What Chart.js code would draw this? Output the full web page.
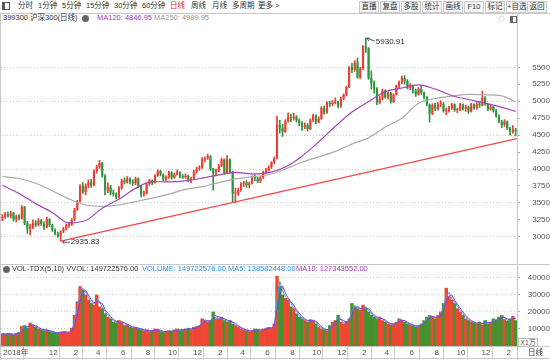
<!DOCTYPE html>
<html>
<head>
<meta charset="utf-8">
<script src="https://cdn.jsdelivr.net/npm/chart.js@4.4.1/dist/chart.umd.min.js"></script>
<style>
* { box-sizing: border-box; }
body { margin: 0; width: 550px; height: 360px; position: relative; overflow: hidden; background: #fff;
       font-family: "Liberation Sans", "Noto Sans CJK SC", sans-serif; color: #333; }
canvas { position: absolute; left: 0; }
.t { position: absolute; font-size: 7.5px; line-height: 10px; white-space: nowrap; }
.btn { position: absolute; top: 1px; width: 20px; height: 12px; border: 1px solid #c9c9c9; background: #f6f6f6;
       font-size: 7.5px; line-height: 10px; text-align: center; white-space: nowrap; }
.hl { position: absolute; left: 0; width: 550px; height: 1px; background: #c8c8c8; }
.vl { position: absolute; width: 1px; background: #c8c8c8; }
.dot { position: absolute; width: 7px; height: 7px; border-radius: 50%; background: #666; }
</style>
</head>
<body>
<canvas id="priceChart" width="550" height="240" style="top:24px"></canvas>
<canvas id="volChart" width="550" height="96" style="top:264px"></canvas>

<!-- barre d'outils -->
<div style="position:absolute;left:2px;top:2px;width:8px;height:8px;border:1px solid #555;"></div>
<div style="position:absolute;left:3px;top:3px;width:2px;height:6px;background:#555;"></div>
<span class="t" style="left:18px;top:1px">分时</span>
<span class="t" style="left:38px;top:1px">1分钟</span>
<span class="t" style="left:62px;top:1px">5分钟</span>
<span class="t" style="left:86px;top:1px">15分钟</span>
<span class="t" style="left:114px;top:1px">30分钟</span>
<span class="t" style="left:142px;top:1px">60分钟</span>
<span class="t" style="left:170px;top:1px;color:#e8241c">日线</span>
<span class="t" style="left:191px;top:1px">周线</span>
<span class="t" style="left:212px;top:1px">月线</span>
<span class="t" style="left:232px;top:1px">多周期</span>
<span class="t" style="left:258px;top:1px">更多 &gt;</span>
<div class="btn" style="left:359px">直播</div>
<div class="btn" style="left:380px">复盘</div>
<div class="btn" style="left:401px">多股</div>
<div class="btn" style="left:422px">统计</div>
<div class="btn" style="left:443px">画线</div>
<div class="btn" style="left:464px">F10</div>
<div class="btn" style="left:485px">标记</div>
<div class="btn" style="left:506px">+自选</div>
<div class="btn" style="left:527px">返回</div>
<div class="hl" style="top:13px"></div>

<!-- en-tête du graphique des prix -->
<span class="t" style="left:3px;top:13px">399300 沪深300(日线)</span>
<div class="dot" style="left:82px;top:15px"></div>
<span class="t" style="left:97px;top:13px;color:#a23db5">MA120: 4846.95</span>
<span class="t" style="left:154px;top:13px;color:#9a9a9a">MA250: 4989.95</span>
<span class="t" style="left:498px;top:14px;color:#777;font-size:7px">◇</span>
<div style="position:absolute;left:510px;top:16px;width:7px;height:7px;border:1px solid #666;border-left-width:3px;"></div>

<!-- en-tête du volume -->
<div class="hl" style="top:264px"></div>
<div class="dot" style="left:3px;top:266px"></div>
<span class="t" style="left:12px;top:264px">VOL-TDX(5,10) VVOL: 149722576.00</span>
<span class="t" style="left:142px;top:264px;color:#2e8fe0">VOLUME: 149722576.00</span>
<span class="t" style="left:228px;top:264px;color:#2e8fe0">MA5: 138582448.00</span>
<span class="t" style="left:296px;top:264px;color:#a238b8">MA10: 127343552.00</span>

<!-- cadres -->
<div class="vl" style="left:0;top:13px;height:347px"></div>
<div class="vl" style="left:517px;top:13px;height:347px"></div>
<div class="hl" style="top:346px"></div>
<div class="hl" style="top:358px"></div>
<div style="position:absolute;left:518px;top:338px;width:20px;height:9px;border:1px solid #bbb;font-size:7px;line-height:7px;text-align:center;color:#555;background:#fff">X1万</div>
<span class="t" style="left:528px;top:348px">日线</span>

<script>
// Données hebdomadaires (indice des semaines depuis mi-août 2018)
const opens = [
  3270, 3290, 3330, 3310, 3350, 3260, 3300, 3270, 3440, 3200,
  3120, 3150, 3200, 3180, 3240, 3190, 3140, 3260, 3170, 3100,
  3050, 3010, 3080, 3120, 3170, 3180, 3250, 3400, 3520, 3750,
  3660, 3750, 3800, 3760, 3970, 4030, 4090, 3900, 3680, 3740,
  3650, 3630, 3580, 3720, 3830, 3800, 3860, 3810, 3790, 3860,
  3750, 3630, 3640, 3780, 3830, 3800, 3900, 3970, 3920, 3850,
  3880, 3950, 3870, 3920, 3950, 3890, 3880, 3900, 3830, 3860,
  3960, 4000, 4020, 4140, 4160, 4190, 4000, 3950, 3980, 4050,
  4140, 3940, 4140, 3960, 3640, 3640, 3690, 3780, 3800, 3760,
  3790, 3880, 3860, 3820, 3870, 3950, 3990, 4030, 4100, 4160,
  4650, 4600, 4550, 4710, 4760, 4750, 4770, 4720, 4680, 4620,
  4650, 4590, 4720, 4790, 4690, 4740, 4900, 4830, 4980, 4960,
  4980, 4990, 4930, 5040, 5090, 5210, 5500, 5460, 5570, 5350,
  5480, 5810, 5780, 5340, 5260, 5190, 4980, 5040, 5160, 5060,
  5120, 4990, 5100, 5230, 5280, 5340, 5300, 5200, 5230, 5150,
  5100, 5180, 5120, 5060, 4950, 4820, 4940, 4890, 4950, 4960,
  4860, 4860, 4900, 4950, 4870, 4880, 4950, 4890, 4920, 4850,
  4950, 4900, 4960, 4940, 5050, 4960, 4880, 4920, 4860, 4780,
  4700, 4650, 4700, 4600, 4550, 4580
];
const highs = [
  3330, 3360, 3370, 3380, 3360, 3320, 3330, 3460, 3450, 3230,
  3190, 3250, 3240, 3270, 3260, 3220, 3290, 3270, 3190, 3120,
  3070, 3090, 3140, 3190, 3210, 3270, 3420, 3540, 3770, 3800,
  3780, 3840, 3850, 3990, 4060, 4127, 4100, 3920, 3800, 3760,
  3690, 3650, 3740, 3850, 3870, 3890, 3870, 3840, 3880, 3870,
  3760, 3680, 3790, 3850, 3840, 3920, 3990, 3980, 3930, 3900,
  3970, 3960, 3940, 3990, 3960, 3920, 3930, 3910, 3880, 3980,
  4030, 4050, 4170, 4180, 4220, 4200, 4010, 4000, 4070, 4160,
  4150, 4200, 4150, 3970, 3720, 3720, 3800, 3820, 3830, 3810,
  3900, 3910, 3880, 3890, 3970, 4010, 4050, 4110, 4180, 4780,
  4720, 4660, 4730, 4830, 4810, 4820, 4790, 4740, 4700, 4680,
  4670, 4740, 4810, 4800, 4770, 4920, 4930, 4990, 5000, 5010,
  5050, 5000, 5060, 5110, 5220, 5510, 5560, 5600, 5640, 5500,
  5820, 5930.91, 5790, 5450, 5300, 5200, 5080, 5180, 5170, 5140,
  5130, 5110, 5240, 5300, 5370, 5380, 5320, 5260, 5240, 5180,
  5200, 5230, 5140, 5070, 4960, 4960, 4970, 4980, 5010, 4980,
  4900, 4930, 4970, 4960, 4900, 4970, 4960, 4940, 4930, 4970,
  4960, 4980, 4990, 5150, 5070, 4970, 4950, 4930, 4880, 4800,
  4720, 4730, 4710, 4620, 4640, 4600
];
const lows = [
  3240, 3270, 3290, 3280, 3230, 3220, 3250, 3260, 3180, 3050,
  3030, 3120, 3150, 3160, 3170, 3110, 3130, 3150, 3080, 3030,
  2990, 2935.83, 3060, 3100, 3140, 3170, 3240, 3390, 3510, 3640,
  3620, 3720, 3730, 3750, 3940, 4010, 3880, 3620, 3650, 3620,
  3600, 3560, 3570, 3700, 3780, 3790, 3780, 3760, 3770, 3730,
  3590, 3600, 3630, 3760, 3770, 3790, 3890, 3900, 3830, 3820,
  3860, 3850, 3860, 3910, 3870, 3860, 3860, 3810, 3800, 3850,
  3940, 3980, 4010, 4110, 4140, 3980, 3690, 3900, 3960, 4030,
  3920, 3930, 3940, 3520, 3503, 3610, 3670, 3740, 3730, 3720,
  3780, 3830, 3800, 3800, 3860, 3930, 3970, 4010, 4080, 4150,
  4530, 4480, 4540, 4690, 4700, 4720, 4690, 4640, 4570, 4590,
  4560, 4580, 4700, 4670, 4680, 4730, 4810, 4820, 4920, 4930,
  4960, 4900, 4910, 5020, 5080, 5200, 5420, 5440, 5340, 5330,
  5470, 5720, 5320, 5180, 5120, 4950, 4960, 5020, 5040, 5030,
  4970, 4980, 5090, 5200, 5260, 5250, 5180, 5170, 5120, 5070,
  5090, 5100, 5030, 4930, 4690, 4800, 4860, 4870, 4920, 4840,
  4800, 4840, 4880, 4850, 4830, 4860, 4870, 4850, 4820, 4840,
  4880, 4880, 4910, 4930, 4940, 4860, 4870, 4840, 4760, 4680,
  4610, 4630, 4580, 4500, 4530, 4490
];
const closes = [
  3290, 3330, 3310, 3350, 3260, 3300, 3270, 3440, 3200, 3120,
  3150, 3200, 3180, 3240, 3190, 3140, 3260, 3170, 3100, 3050,
  3010, 3080, 3120, 3170, 3180, 3250, 3400, 3520, 3750, 3660,
  3750, 3800, 3760, 3970, 4030, 4090, 3900, 3680, 3740, 3650,
  3630, 3580, 3720, 3830, 3800, 3860, 3810, 3790, 3860, 3750,
  3630, 3640, 3780, 3830, 3800, 3900, 3970, 3920, 3850, 3880,
  3950, 3870, 3920, 3950, 3890, 3880, 3900, 3830, 3860, 3960,
  4000, 4020, 4140, 4160, 4190, 4000, 3950, 3980, 4050, 4140,
  3940, 4140, 3960, 3640, 3640, 3690, 3780, 3800, 3760, 3790,
  3880, 3860, 3820, 3870, 3950, 3990, 4030, 4100, 4160, 4650,
  4600, 4550, 4710, 4760, 4750, 4770, 4720, 4680, 4620, 4650,
  4590, 4720, 4790, 4690, 4740, 4900, 4830, 4980, 4960, 4980,
  4990, 4930, 5040, 5090, 5210, 5500, 5460, 5570, 5350, 5480,
  5810, 5780, 5340, 5260, 5190, 4980, 5040, 5160, 5060, 5120,
  4990, 5100, 5230, 5280, 5340, 5300, 5200, 5230, 5150, 5100,
  5180, 5120, 5060, 4950, 4820, 4940, 4890, 4950, 4960, 4860,
  4860, 4900, 4950, 4870, 4880, 4950, 4890, 4920, 4850, 4950,
  4900, 4960, 4940, 5050, 4960, 4880, 4920, 4860, 4780, 4700,
  4650, 4700, 4600, 4550, 4580, 4560
];
// Volume moyen journalier (unité : 万)
const volumes = [
  7200, 6800, 7500, 7000, 6500, 7300, 8000, 11500, 12000, 10500,
  13500, 12000, 11000, 10000, 9500, 9000, 9500, 8500, 8000, 7800,
  7500, 8200, 8500, 8000, 7800, 10500, 18000, 26000, 35000, 33000,
  30000, 27000, 25000, 24000, 30000, 23000, 22000, 19000, 17000, 16000,
  14000, 13500, 15000, 14000, 12000, 12500, 11000, 10500, 11000, 10000,
  9500, 9000, 9500, 8500, 9000, 10000, 9500, 8500, 8000, 8500,
  9000, 8500, 9500, 10000, 9000, 9500, 10000, 10500, 9500, 11000,
  11500, 12000, 16000, 15000, 14000, 15000, 20000, 16000, 16000, 17000,
  15000, 14000, 15000, 13000, 12000, 11000, 10000, 9500, 9000, 8500,
  9000, 10000, 9500, 9000, 10000, 10500, 11000, 10500, 13000, 41000,
  35000, 30000, 28000, 27000, 23000, 22000, 19000, 17000, 16000, 15000,
  14000, 15500, 15000, 13000, 11000, 10000, 9500, 9000, 12000, 14000,
  15000, 18000, 14000, 13000, 14500, 16000, 25000, 23000, 22000, 21000,
  24000, 22000, 20000, 18000, 17000, 16000, 17000, 15000, 14000, 13000,
  12500, 13000, 14000, 16000, 15000, 14000, 13000, 12500, 12000, 11000,
  12000, 13000, 15000, 17000, 18000, 17000, 16000, 18000, 20000, 25000,
  34000, 29000, 27000, 25000, 22000, 20000, 18000, 16000, 15000, 14000,
  13500, 13000, 14000, 12500, 15000, 13000, 14000, 16000, 15000, 17000,
  18000, 15500, 14500, 16000, 17500, 14972
];

const maWeeks = [0, 6, 12, 18, 24, 30, 36, 42, 48, 54, 60, 66, 72, 78, 84, 90,
                 96, 102, 108, 114, 120, 126, 132, 138, 144, 150, 156, 162, 168, 174, 180, 185];
const ma120 = [3760, 3640, 3490, 3360, 3205, 3240, 3420, 3555, 3715, 3815, 3810, 3825, 3865, 3915, 3950, 3930,
               3948, 4030, 4190, 4400, 4630, 4840, 4995, 5140, 5195, 5240, 5180, 5085, 5025, 4970, 4910, 4850];
const ma250 = [3890, 3860, 3790, 3680, 3560, 3470, 3450, 3470, 3520, 3570, 3630, 3700, 3740, 3800, 3855, 3885,
               3920, 4000, 4100, 4180, 4260, 4370, 4460, 4620, 4750, 4970, 5040, 5075, 5100, 5095, 5080, 4990];

// Ligne de tendance
const trendWeeks = [21, 185.5];
const trendValues = [2935.83, 4450];

// Axes
const priceTicks = [3000, 3250, 3500, 3750, 4000, 4250, 4500, 4750, 5000, 5250, 5500];
const volTicks = [10000, 20000, 30000, 40000];
const tickWeeks = [-0.5, 16, 25, 33, 42, 51, 59, 68, 77, 85, 94, 103, 111, 120, 129, 137, 146, 155, 163, 172, 181];
const tickLabels = ['2018年', '12', '2', '4', '6', '8', '10', '12', '2', '4', '6', '8', '10', '12', '2', '4', '6', '8', '10', '12', '2'];

const FONT = '"Liberation Sans", "Noto Sans CJK SC", sans-serif';
const UP = 'rgb(236,62,50)';
const DOWN = 'rgb(44,150,62)';
const VOL_UP = 'rgb(238,72,52)';
const VOL_DOWN = 'rgb(70,145,48)';

function candleColor(i) {
    return closes[i] >= opens[i] ? UP : DOWN;
}

function movingAvg(vals, n) {
    return vals.map((v, i) => {
        const part = vals.slice(Math.max(0, i - n + 1), i + 1);
        return part.reduce((a, b) => a + b, 0) / part.length;
    });
}

const weekIdx = closes.map((_, i) => i);
const xMin = -0.5;
const xMax = closes.length - 0.5;

// Étiquettes du plus haut et du plus bas
const extremaLabels = {
    id: 'extremaLabels',
    afterDatasetsDraw(chart) {
        const { ctx, scales: { x, y } } = chart;
        const hiIdx = highs.indexOf(Math.max(...highs));
        const loIdx = lows.indexOf(Math.min(...lows));
        ctx.save();
        ctx.font = '8px ' + FONT;
        ctx.fillStyle = '#333';
        ctx.strokeStyle = '#555';
        ctx.lineWidth = 1;
        ctx.textBaseline = 'middle';

        let px = x.getPixelForValue(hiIdx);
        let py = y.getPixelForValue(highs[hiIdx]);
        ctx.beginPath();
        ctx.moveTo(px + 1, py);
        ctx.lineTo(px + 9, py + 3);
        ctx.moveTo(px + 1, py);
        ctx.lineTo(px + 3, py + 3);
        ctx.moveTo(px + 1, py);
        ctx.lineTo(px + 4, py);
        ctx.stroke();
        ctx.fillText(highs[hiIdx].toFixed(2), px + 10, py + 4);

        px = x.getPixelForValue(loIdx);
        py = y.getPixelForValue(lows[loIdx]);
        ctx.beginPath();
        ctx.moveTo(px + 2, py + 1);
        ctx.lineTo(px + 9, py + 1);
        ctx.moveTo(px + 2, py + 1);
        ctx.lineTo(px + 4, py - 1);
        ctx.moveTo(px + 2, py + 1);
        ctx.lineTo(px + 4, py + 3);
        ctx.stroke();
        ctx.fillText(lows[loIdx].toFixed(2), px + 10, py + 1);
        ctx.restore();
    }
};

const baseOptions = {
    animation: false,
    responsive: false,
    events: [],
    plugins: { legend: { display: false }, tooltip: { enabled: false } },
    layout: { padding: { left: 1, right: 0, top: 0, bottom: 0 } }
};

// Graphique des prix
new Chart(document.getElementById('priceChart'), {
    type: 'bar',
    data: {
        datasets: [
            {
                label: 'wick',
                data: weekIdx.map(i => ({ x: i, y: [lows[i], highs[i]] })),
                backgroundColor: ctx => candleColor(ctx.dataIndex),
                grouped: false, barPercentage: 1, categoryPercentage: 1, maxBarThickness: 1,
                order: 4
            },
            {
                label: 'body',
                data: weekIdx.map(i => ({ x: i, y: [opens[i], closes[i]] })),
                backgroundColor: ctx => candleColor(ctx.dataIndex),
                grouped: false, barPercentage: 0.75, categoryPercentage: 1, minBarLength: 1,
                order: 3
            },
            {
                type: 'line', label: 'MA250',
                data: maWeeks.map((w, k) => ({ x: w, y: ma250[k] })),
                borderColor: '#aaaaaa', borderWidth: 1.2, pointRadius: 0,
                cubicInterpolationMode: 'monotone', order: 2
            },
            {
                type: 'line', label: 'MA120',
                data: maWeeks.map((w, k) => ({ x: w, y: ma120[k] })),
                borderColor: '#a444b8', borderWidth: 1.2, pointRadius: 0,
                cubicInterpolationMode: 'monotone', order: 1
            },
            {
                type: 'line', label: 'trend',
                data: trendWeeks.map((w, k) => ({ x: w, y: trendValues[k] })),
                borderColor: '#f24848', borderWidth: 1.3, pointRadius: 0, order: 0
            }
        ]
    },
    options: {
        ...baseOptions,
        scales: {
            x: { type: 'linear', min: xMin, max: xMax, offset: false, display: false },
            y: {
                position: 'right', min: 2773.5, max: 5965, beginAtZero: false,
                afterBuildTicks: s => { s.ticks = priceTicks.map(v => ({ value: v })); },
                afterFit: s => { s.width = 33; },
                grid: {
                    color: c => (c.tick && c.tick.value % 500 === 0) ? '#cfcfcf' : 'rgba(0,0,0,0)',
                    tickColor: '#b0b0b0', tickLength: 3
                },
                border: { display: false, dash: [1, 2] },
                ticks: {
                    color: '#555', font: { size: 8, family: FONT }, padding: 7, crossAlign: 'far',
                    callback: v => String(v)
                }
            }
        }
    },
    plugins: [extremaLabels]
});

// Graphique des volumes
const volFast = movingAvg(volumes, 2);
const volSlow = movingAvg(volumes, 3);

new Chart(document.getElementById('volChart'), {
    type: 'bar',
    data: {
        datasets: [
            {
                label: 'VOLUME',
                data: weekIdx.map(i => ({ x: i, y: volumes[i] })),
                backgroundColor: ctx => closes[ctx.dataIndex] >= opens[ctx.dataIndex] ? VOL_UP : VOL_DOWN,
                barPercentage: 1, categoryPercentage: 1,
                order: 2
            },
            {
                type: 'line', label: 'MA5',
                data: weekIdx.map(i => ({ x: i, y: volFast[i] })),
                borderColor: '#3d9be9', borderWidth: 1, pointRadius: 0, order: 1
            },
            {
                type: 'line', label: 'MA10',
                data: weekIdx.map(i => ({ x: i, y: volSlow[i] })),
                borderColor: '#8a3fd1', borderWidth: 1, pointRadius: 0, order: 0
            }
        ]
    },
    options: {
        ...baseOptions,
        layout: { padding: { left: 1, right: 0, top: 10, bottom: 0 } },
        scales: {
            x: {
                type: 'linear', min: xMin, max: xMax, offset: false,
                afterBuildTicks: s => { s.ticks = tickWeeks.map(v => ({ value: v })); },
                afterFit: s => { s.height = 14; },
                grid: { drawOnChartArea: false, drawTicks: true, tickLength: 14, tickColor: '#d0d0d0', color: '#d0d0d0' },
                border: { display: false },
                ticks: {
                    autoSkip: false, maxRotation: 0, minRotation: 0, align: 'start', labelOffset: 2, padding: -12,
                    color: '#555', font: { size: 8, family: FONT },
                    callback: (v, i) => tickLabels[i]
                }
            },
            y: {
                position: 'right', min: 0, max: 42350,
                afterBuildTicks: s => { s.ticks = volTicks.map(v => ({ value: v })); },
                afterFit: s => { s.width = 33; },
                grid: { color: '#cfcfcf', tickColor: '#b0b0b0', tickLength: 3 },
                border: { display: false, dash: [1, 2] },
                ticks: {
                    color: '#555', font: { size: 8, family: FONT }, padding: 4, crossAlign: 'far',
                    callback: v => String(v)
                }
            }
        }
    }
});
</script>
</body>
</html>
